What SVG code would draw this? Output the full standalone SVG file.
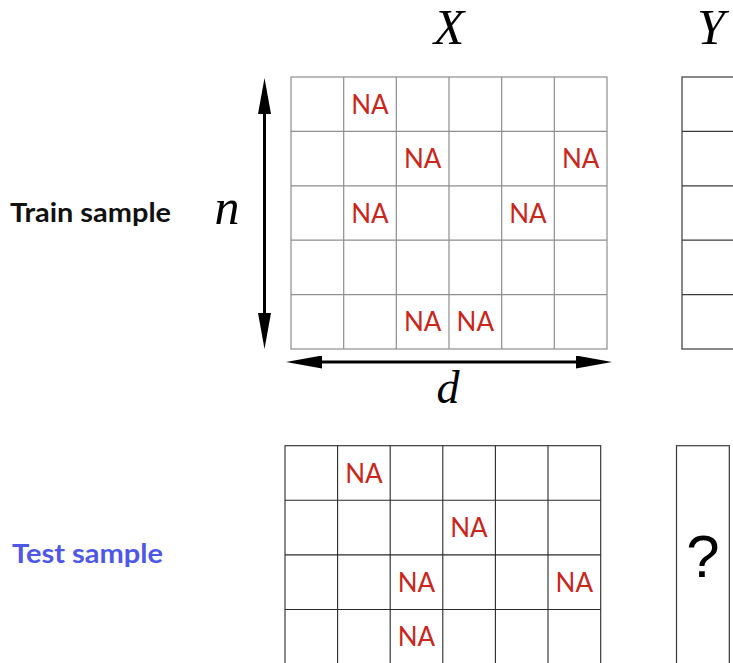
<svg xmlns="http://www.w3.org/2000/svg" width="733" height="663" viewBox="0 0 733 663">
<style>
.bg{fill:#ffffff}
.cellA{fill:#ffffff;stroke:#8e8e8e;stroke-width:1.2}
.cellB{fill:#ffffff;stroke:#2a2a2a;stroke-width:1.1}
.ycol{fill:#ffffff;stroke:#3a3a3a;stroke-width:1.2}
.na{font-family:Lato,"Liberation Sans",sans-serif;font-size:26px;fill:#c9261c;text-anchor:middle}
.math{font-family:"Liberation Serif","DejaVu Serif",serif;font-style:italic;fill:#000;text-anchor:middle}
.lab{font-family:Lato,"Liberation Sans",sans-serif;font-weight:bold;font-size:26px}
.q{font-family:"Liberation Sans",Arial,sans-serif;font-size:60px;fill:#000;text-anchor:middle}
.arr{stroke:#000;stroke-width:3;fill:none}
</style>
<defs>
<marker id="ah" viewBox="0 0 36 13" refX="6" refY="6.5" markerWidth="36" markerHeight="13" markerUnits="userSpaceOnUse" orient="auto-start-reverse">
<path d="M0,0 L36,6.5 L0,13 z" fill="#000"/>
</marker>
</defs>
<rect class="bg" x="0" y="0" width="733" height="663"/>

<g id="label-X"><text class="math" x="449" y="44" font-size="50">X</text></g>
<g id="label-Y"><text class="math" x="711" y="44" font-size="50">Y</text></g>

<g id="train-label"><text class="lab" x="10" y="222" fill="#111" textLength="161" lengthAdjust="spacingAndGlyphs">Train sample</text></g>
<g id="test-label"><text class="lab" x="12" y="563" fill="#4f57e6" textLength="151" lengthAdjust="spacingAndGlyphs">Test sample</text></g>

<g id="label-n"><text class="math" x="227" y="224" font-size="50">n</text></g>
<g id="label-d"><text class="math" x="448" y="403" font-size="46">d</text></g>

<g id="train-X">
<rect class="cellA" x="291" y="77" width="316" height="272"/>
<path class="cellA" fill="none" d="M343.7,77V349M396.3,77V349M449,77V349M501.7,77V349M554.3,77V349M291,131.4H607M291,185.8H607M291,240.2H607M291,294.6H607"/>
<text class="na" x="370" y="113.5">NA</text>
<text class="na" x="422.7" y="168">NA</text>
<text class="na" x="580.7" y="168">NA</text>
<text class="na" x="370" y="222.5">NA</text>
<text class="na" x="528" y="222.5">NA</text>
<text class="na" x="422.7" y="331">NA</text>
<text class="na" x="475.3" y="331">NA</text>
</g>

<g id="train-Y">
<rect class="ycol" x="682" y="77" width="70" height="272"/>
<path class="ycol" d="M682,131.4H740M682,185.8H740M682,240.2H740M682,294.6H740"/>
</g>

<g id="test-X">
<rect class="cellB" x="285" y="445.7" width="315.7" height="240"/>
<path class="cellB" fill="none" d="M337.6,445.7V663M390.2,445.7V663M442.8,445.7V663M495.4,445.7V663M548,445.7V663M285,500.3H600.7M285,554.9H600.7M285,609.5H600.7"/>
<text class="na" x="364" y="482.5">NA</text>
<text class="na" x="469" y="537">NA</text>
<text class="na" x="416.5" y="591.5">NA</text>
<text class="na" x="574.3" y="591.5">NA</text>
<text class="na" x="416.5" y="646">NA</text>
</g>

<g id="test-Y">
<rect class="ycol" x="676.5" y="445.7" width="52.8" height="240"/>
<text class="q" x="703" y="577">?</text>
</g>

<g id="connectors">
<line class="arr" x1="264.5" y1="108" x2="264.5" y2="319" marker-start="url(#ah)" marker-end="url(#ah)"/>
<line class="arr" x1="316" y1="362" x2="582" y2="362" marker-start="url(#ah)" marker-end="url(#ah)"/>
</g>
</svg>
